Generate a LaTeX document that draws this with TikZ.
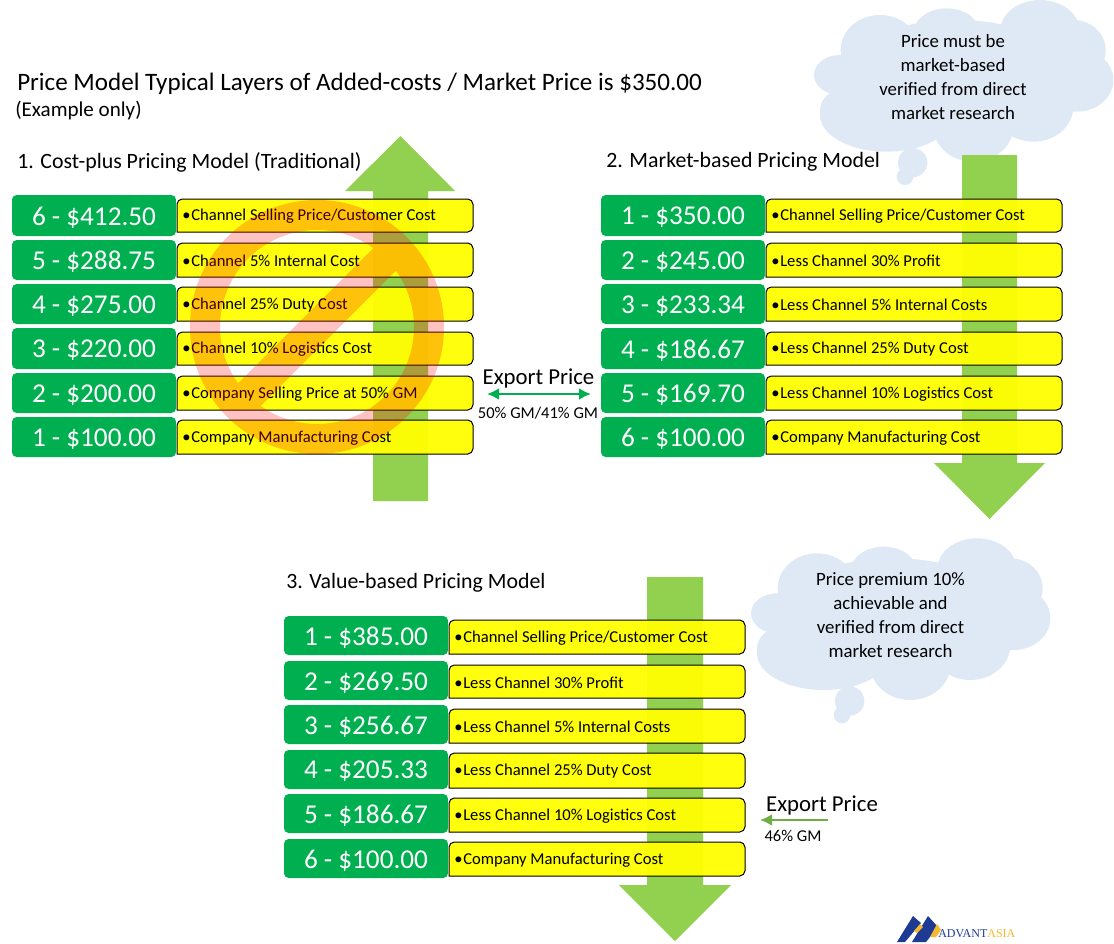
\documentclass[tikz,border=0pt]{standalone}
\usepackage{fontspec}
\usetikzlibrary{arrows.meta}
\setmainfont{Carlito}
\newfontfamily\logofont{Liberation Serif}
\definecolor{gbox}{HTML}{00B050}
\definecolor{arrowg}{HTML}{92D050}
\definecolor{cloudb}{HTML}{DEE9F5}
\definecolor{exparrow}{HTML}{70AD47}
\definecolor{navy}{HTML}{1F3A93}
\definecolor{gold}{HTML}{F5B82E}
\definecolor{bary}{rgb}{1,1,0}
\tikzset{
  pricebox/.style={fill=gbox,rounded corners=3.5pt,text=white,font=\fontsize{20.4}{24}\selectfont,inner sep=0pt,align=center},
  costbar/.style={fill=bary,fill opacity=.95,draw=black,line width=.75pt,rounded corners=4pt},
  costtext/.style={anchor=west,inner sep=0pt,font=\fontsize{12.45}{15}\selectfont,text=black},
  heading/.style={anchor=west,inner sep=0pt,font=\fontsize{16.4}{20}\selectfont,text=black},
  bigarrow/.style={fill=arrowg},
  cloudtext/.style={align=center,font=\fontsize{14.1}{18}\selectfont,text=black,inner sep=0pt},
  exptext/.style={inner sep=0pt,font=\fontsize{17.1}{20}\selectfont,text=black},
  gmtext/.style={inner sep=0pt,font=\fontsize{12.4}{15}\selectfont,text=black},
}
\newcommand{\pricerow}[8]{%
  \pgfmathsetmacro{\xgc}{#2+82}%
  \pgfmathsetmacro{\ygc}{(#3+#4)/2}%
  \pgfmathsetmacro{\ygh}{(#4-#3)*.75}%
  \pgfmathsetmacro{\xyl}{#2+165}%
  \pgfmathsetmacro{\xyr}{#2+461}%
  \pgfmathsetmacro{\yyc}{(#5+#6)/2}%
  \pgfmathsetmacro{\xtx}{#2+170}%
  \path[costbar] (\xyr,\yyc) |- (\xyl,#5) [sharp corners] -- (\xyl,#6)  [rounded corners=4pt] -| (\xyr,\yyc);
  \node[pricebox,minimum width=123pt,minimum height=\ygh pt,text depth=0pt] (#1p) at (\xgc,\ygc) {\raisebox{-.6pt}{#7}};
  \node[costtext] (#1c) at (\xtx,\yyc+.8) {\makebox[6.75pt][l]{•}#8};
}
\newcommand{\cloudshape}[2]{%
\begin{scope}[shift={(#1,#2)},x=.25pt,y=-.25pt]
 \fill[cloudb] (650,230) ellipse[x radius=350,y radius=170]
  (300,225) ellipse[x radius=78,y radius=60]
  (420,150) ellipse[x radius=118,y radius=105]
  (620,100) ellipse[x radius=100,y radius=75]
  (900,90) ellipse[x radius=118,y radius=90]
  (1000,150) ellipse[x radius=97,y radius=90]
  (1010,240) ellipse[x radius=110,y radius=95]
  (880,320) ellipse[x radius=120,y radius=105]
  (700,380) ellipse[x radius=120,y radius=105]
  (440,345) ellipse[x radius=200,y radius=110]
  (320,330) ellipse[x radius=80,y radius=65]
  (518,488) circle[radius=44]
  (495,530) circle[radius=25];
\end{scope}}
\begin{document}
\begin{tikzpicture}[x=.75pt,y=-.75pt]
\useasboundingbox (0,0) rectangle (1114,943);
% clouds
\cloudshape{740}{0}
\cloudshape{677}{538.3}
\node[cloudtext] (cloudA) at (953,77) {Price must be\\market-based\\verified from direct\\market research};
\node[cloudtext] (cloudB) at (890.5,615) {Price premium 10\%\\achievable and\\verified from direct\\market research};
% large arrows
\fill[bigarrow] (373,501) -- (373,191) -- (345,191) -- (400.5,136) -- (455,191) -- (428,191) -- (428,501) -- cycle;
\fill[bigarrow] (962,155) -- (962,463) -- (934,463) -- (989.5,519) -- (1045,463) -- (1017,463) -- (1017,155) -- cycle;
\fill[bigarrow] (647,577) -- (647,885) -- (619,885) -- (675,941) -- (731,885) -- (703,885) -- (703,577) -- cycle;
% headings
\node[anchor=west,inner sep=0pt,font=\fontsize{18.8}{22}\selectfont] (title) at (17,84) {Price Model Typical Layers of Added-costs / Market Price is \$350.00};
\node[anchor=west,inner sep=0pt,font=\fontsize{15.8}{18}\selectfont] (sub) at (15,110) {(Example only)};
\node[heading] (h1) at (17,162) {1. Cost-plus Pricing Model (Traditional)};
\node[heading] (h2) at (606,162) {2. Market-based Pricing Model};
\node[heading] (h3) at (286,583) {3. Value-based Pricing Model};
% model 1
\pricerow{a1}{12}{195}{236}{199}{232}{6 - \$412.50}{Channel Selling Price/Customer Cost}
\pricerow{a2}{12}{240}{280}{243}{277}{5 - \$288.75}{Channel 5\% Internal Cost}
\pricerow{a3}{12}{284}{324}{287}{321}{4 - \$275.00}{Channel 25\% Duty Cost}
\pricerow{a4}{12}{328}{369}{332}{365}{3 - \$220.00}{Channel 10\% Logistics Cost}
\pricerow{a5}{12}{373}{413}{376}{410}{2 - \$200.00}{Company Selling Price at 50\% GM}
\pricerow{a6}{12}{417}{457}{420}{454}{1 - \$100.00}{Company Manufacturing Cost}
% model 2
\pricerow{b1}{601}{195}{236}{199}{232}{1 - \$350.00}{Channel Selling Price/Customer Cost}
\pricerow{b2}{601}{240}{280}{243}{277}{2 - \$245.00}{Less Channel 30\% Profit}
\pricerow{b3}{601}{284}{324}{287}{321}{3 - \$233.34}{Less Channel 5\% Internal Costs}
\pricerow{b4}{601}{328}{369}{332}{365}{4 - \$186.67}{Less Channel 25\% Duty Cost}
\pricerow{b5}{601}{373}{413}{376}{410}{5 - \$169.70}{Less Channel 10\% Logistics Cost}
\pricerow{b6}{601}{417}{457}{420}{454}{6 - \$100.00}{Company Manufacturing Cost}
% model 3
\pricerow{c1}{284}{616}{655}{620}{654}{1 - \$385.00}{Channel Selling Price/Customer Cost}
\pricerow{c2}{284}{661}{700}{665}{698}{2 - \$269.50}{Less Channel 30\% Profit}
\pricerow{c3}{284}{705}{744}{709}{743}{3 - \$256.67}{Less Channel 5\% Internal Costs}
\pricerow{c4}{284}{750}{789}{753}{788}{4 - \$205.33}{Less Channel 25\% Duty Cost}
\pricerow{c5}{284}{794}{833}{798}{832}{5 - \$186.67}{Less Channel 10\% Logistics Cost}
\pricerow{c6}{284}{839}{878}{842}{876}{6 - \$100.00}{Company Manufacturing Cost}
% prohibition sign
\fill[red,fill opacity=.24,even odd rule] (317,327) circle[radius=127]
  (317,327) ++(144.5:97) arc[start angle=144.5,end angle=305.5,radius=97] -- cycle
  (317,327) ++(-35.5:97) arc[start angle=-35.5,end angle=125.5,radius=97] -- cycle;
% export price
\node[exptext] (exA) at (538.5,378.5) {Export Price};
\node[gmtext] (gmA) at (538,413.5) {50\% GM/41\% GM};
\coordinate (exAl) at (487,394);
\coordinate (exAr) at (591,394);
\draw[gbox,line width=2.2pt,{Latex[length=9pt,width=9pt]}-{Latex[length=9pt,width=9pt]}] (exAl) -- (exAr);
\node[exptext] (exB) at (822,805.5) {Export Price};
\node[gmtext] (gmB) at (793,835.5) {46\% GM};
\coordinate (exBs) at (828,820);
\coordinate (exBe) at (760,820);
\draw[exparrow,line width=2.2pt,-{Latex[length=9pt,width=9pt]}] (exBs) -- (exBe);
% logo
\fill[navy] (897,942) -- (913,916) -- (921,923) -- (905,942) -- cycle;
\fill[navy] (912,942) -- (928,916) -- (938,927) -- (926,942) -- cycle;
\fill[gold] (914,931) -- (920,924) -- (923,927) -- (917,933) -- cycle;
\fill[gold] (930,937) -- (937,924) -- (941,930) -- (936,937) -- cycle;
\node[anchor=base west,inner sep=0pt,font=\logofont\fontsize{9}{10}\selectfont] (logo) at (938,937.5) {\textcolor{navy}{ADVANT}\textcolor{gold}{ASIA}};
\end{tikzpicture}
\end{document}
